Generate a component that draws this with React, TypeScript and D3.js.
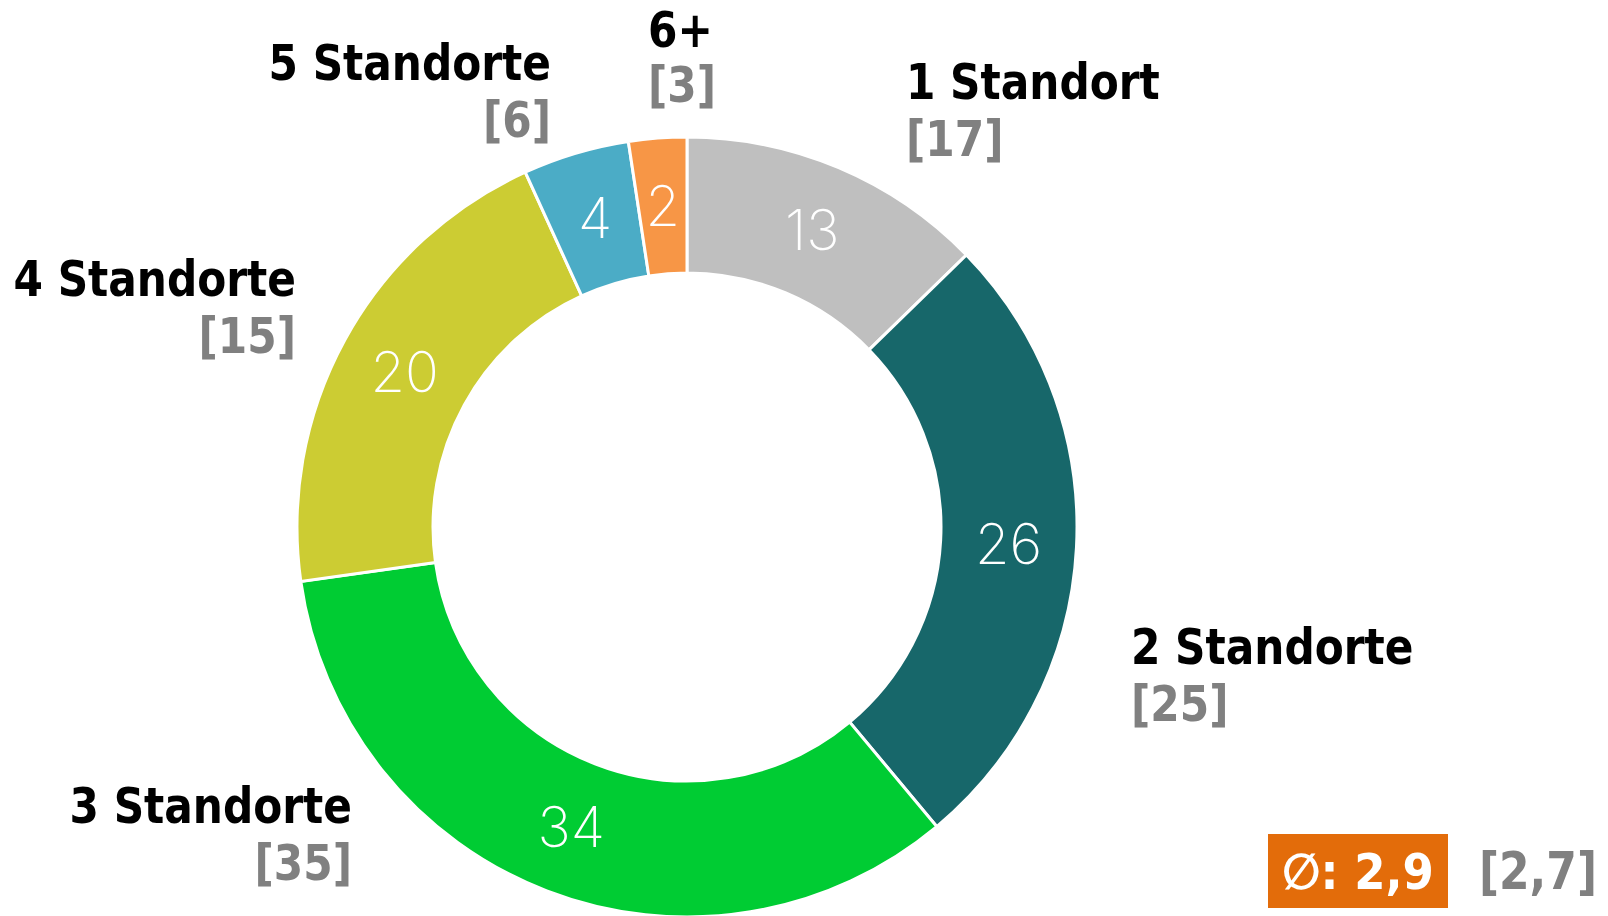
import React from "react";
import * as d3 from "d3";

const categories = ["1 Standort", "2 Standorte", "3 Standorte", "4 Standorte", "5 Standorte", "6+"];
const shares = [12.7, 26.2, 33.8, 20.4, 4.4, 2.4];
const previous = [17, 25, 35, 15, 6, 3];
const colors = ["#BFBFBF", "#17676A", "#00CC33", "#CCCC33", "#4BACC6", "#F79646"];
const averageNow = "2,9";
const averagePrev = "2,7";

const W = 1608;
const H = 916;
const cx = 687;
const cy = 527;
const rOuter = 390;
const rInner = 254;

const labelPos: { x: number; y: number; anchor: "start" | "end" }[] = [
  { x: 906, y: 99, anchor: "start" },
  { x: 1131, y: 664, anchor: "start" },
  { x: 352, y: 823, anchor: "end" },
  { x: 296, y: 296, anchor: "end" },
  { x: 551, y: 80, anchor: "end" },
  { x: 648, y: 47, anchor: "start" },
];

const boldFont = "'DejaVu Sans Condensed', 'DejaVu Sans', sans-serif";
const thinFont = "Inter, Roboto, Lato, sans-serif";
const squeeze = 0.94;

export default function App() {
  const pie = d3.pie<number>().sort(null).value((d) => d);
  const arcs = pie(shares);
  const arc = d3.arc<d3.PieArcDatum<number>>().innerRadius(rInner).outerRadius(rOuter);
  const mid = d3
    .arc<d3.PieArcDatum<number>>()
    .innerRadius((rInner + rOuter) / 2)
    .outerRadius((rInner + rOuter) / 2);

  return (
    <svg
      width={W}
      height={H}
      style={{ position: "absolute", left: 0, top: 0, background: "#fff" }}
    >
      <g transform={`translate(${cx},${cy})`}>
        {arcs.map((a, i) => (
          <path key={i} d={arc(a) || ""} fill={colors[i]} stroke="#fff" strokeWidth={3} />
        ))}
        {arcs.map((a, i) => {
          const [x, y] = mid.centroid(a);
          return (
            <text
              key={"v" + i}
              x={x}
              y={y}
              textAnchor="middle"
              dominantBaseline="central"
              fill="#fff"
              fontFamily={thinFont}
              fontWeight={200}
              fontSize={56}
            >
              {Math.round(shares[i])}
            </text>
          );
        })}
      </g>
      {categories.map((c, i) => (
        <g key={"l" + i} fontFamily={boldFont} fontWeight="bold" fontSize={50}>
          <text
            transform={`translate(${labelPos[i].x},${labelPos[i].y}) scale(${squeeze},1)`}
            textAnchor={labelPos[i].anchor}
            fill="#000"
          >
            {c}
          </text>
          <text
            transform={`translate(${labelPos[i].x},${labelPos[i].y + (i === 5 ? 55 : 57)}) scale(${squeeze},1)`}
            textAnchor={labelPos[i].anchor}
            fill="#808080"
          >
            [{previous[i]}]
          </text>
        </g>
      ))}
      <rect x={1268} y={834} width={180} height={74} fill="#E36C0A" />
      <text
        x={1358}
        y={889}
        textAnchor="middle"
        fill="#fff"
        fontFamily={boldFont}
        fontWeight="bold"
        fontSize={50}
      >
        {"\u2205: " + averageNow}
      </text>
      <text
        transform={`translate(1597,889) scale(${squeeze},1)`}
        textAnchor="end"
        fill="#808080"
        fontFamily={boldFont}
        fontWeight="bold"
        fontSize={52}
      >
        [{averagePrev}]
      </text>
    </svg>
  );
}
